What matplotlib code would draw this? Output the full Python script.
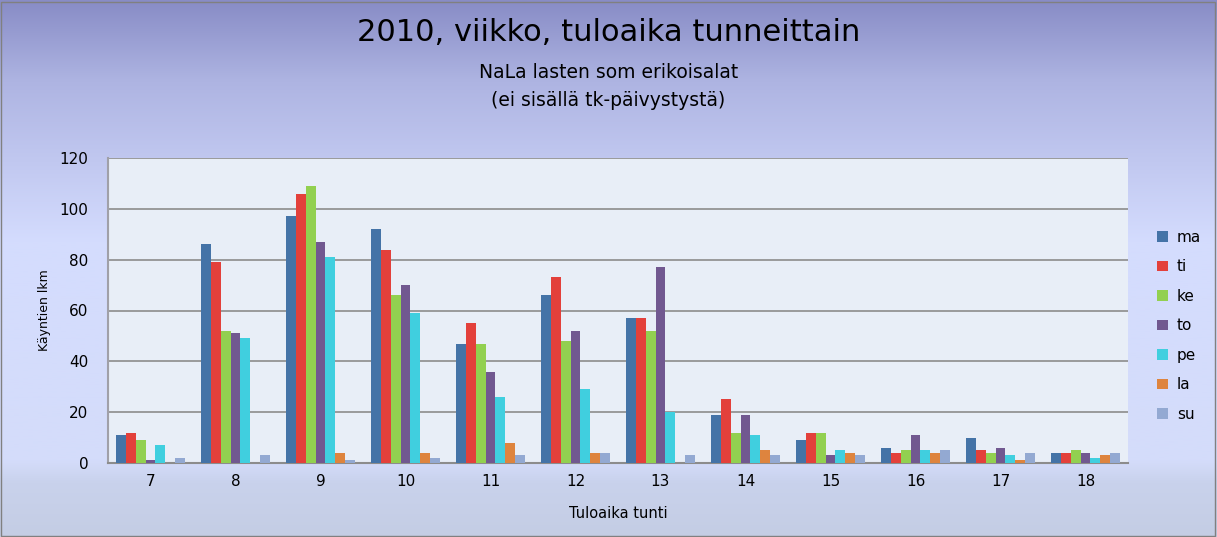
import numpy as np
import matplotlib.pyplot as plt
from matplotlib.colors import LinearSegmentedColormap
from matplotlib.patches import Rectangle

hours = ["7", "8", "9", "10", "11", "12", "13", "14", "15", "16", "17", "18"]
days = ["ma", "ti", "ke", "to", "pe", "la", "su"]

ma = [11, 86, 97, 92, 47, 66, 57, 19, 9, 6, 10, 4]
ti = [12, 79, 106, 84, 55, 73, 57, 25, 12, 4, 5, 4]
ke = [9, 52, 109, 66, 47, 48, 52, 12, 12, 5, 4, 5]
to = [1, 51, 87, 70, 36, 52, 77, 19, 3, 11, 6, 4]
pe = [7, 49, 81, 59, 26, 29, 20, 11, 5, 5, 3, 2]
la = [0, 0, 4, 4, 8, 4, 0, 5, 4, 4, 1, 3]
su = [2, 3, 1, 2, 3, 4, 3, 3, 3, 5, 4, 4]

series = [ma, ti, ke, to, pe, la, su]
colors = ["#4473a7", "#e3403b", "#92d050", "#715890", "#40cfdf", "#de843e", "#93a9d2"]

fig = plt.figure(figsize=(12.17, 5.37), dpi=100)

# gradient background
bg = fig.add_axes([0, 0, 1, 1], zorder=-10)
cmap = LinearSegmentedColormap.from_list(
    "bg", [(0.0, "#c4cde4"), (0.10, "#c9d2ec"), (0.14, "#d4dcfa"), (0.55, "#d4dcfe"),
           (0.85, "#aeb4e2"), (1.0, "#888cc6")])
grad = np.linspace(0, 1, 256).reshape(-1, 1)
bg.imshow(grad, aspect="auto", cmap=cmap, origin="lower", extent=[0, 1, 0, 1])
bg.set_xlim(0, 1)
bg.set_ylim(0, 1)
bg.add_patch(Rectangle((0.001, 0.002), 0.997, 0.995, fill=False, edgecolor="#808080", linewidth=1))
bg.axis("off")

ax = fig.add_axes([108 / 1217, 74 / 537, 1020 / 1217, 305 / 537])
ax.set_facecolor("#e8eef7")

x = np.arange(len(hours))
n = len(series)
w = 0.82 / n
for i, (vals, c, d) in enumerate(zip(series, colors, days)):
    ax.bar(x - 0.41 + w * (i + 0.5), vals, width=w, color=c, label=d, zorder=3)

ax.set_xlim(-0.5, len(hours) - 0.5)
ax.set_ylim(0, 120)
ax.set_yticks(range(0, 121, 20))
ax.set_xticks(x)
ax.set_xticklabels(hours)
ax.yaxis.grid(True, color="#8c8c8c", linewidth=1.2, zorder=0)
ax.set_axisbelow(True)
for s in ["top", "right"]:
    ax.spines[s].set_visible(False)
ax.spines["left"].set_color("#a0a0a8")
ax.spines["left"].set_linewidth(1.5)
ax.spines["bottom"].set_color("#8c8c8c")
ax.spines["bottom"].set_linewidth(1.5)
ax.tick_params(axis="both", length=0, labelsize=11, pad=8)
ax.tick_params(axis="y", pad=14)

ax.set_xlabel("Tuloaika tunti", fontsize=10.5, labelpad=12)
ax.set_ylabel("Käyntien lkm", fontsize=9, labelpad=6)

fig.text(0.5, 0.94, "2010, viikko, tuloaika tunneittain", ha="center", va="center", fontsize=22)
fig.text(0.5, 0.865, "NaLa lasten som erikoisalat", ha="center", va="center", fontsize=13.5)
fig.text(0.5, 0.813, "(ei sisällä tk-päivystystä)", ha="center", va="center", fontsize=13.5)

ax.legend(loc="center left", bbox_to_anchor=(1.015, 0.45), frameon=False, fontsize=11,
          handlelength=0.7, handleheight=0.7, handletextpad=0.6, labelspacing=0.95)

fig.savefig("out.png", dpi=100)
